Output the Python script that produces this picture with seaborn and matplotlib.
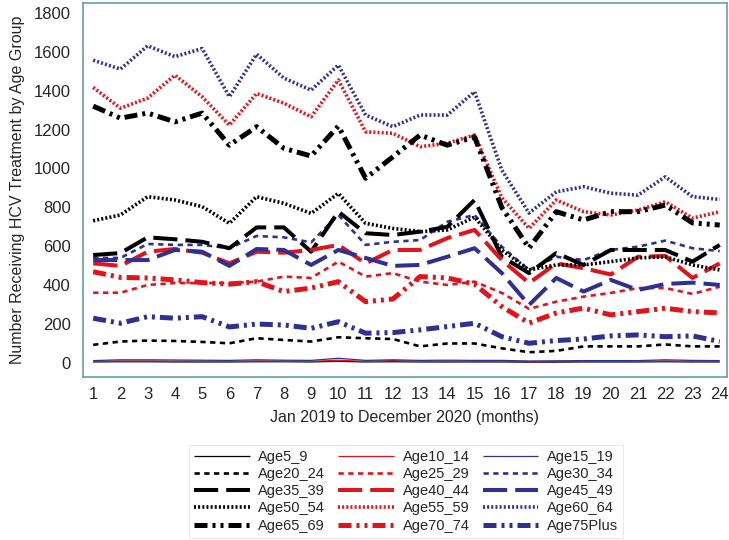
import numpy as np
import pandas as pd
import matplotlib
matplotlib.use("Agg")
import matplotlib.pyplot as plt
import seaborn as sns

# Meses 1..24 (ene 2019 - dic 2020)
months = list(range(1, 25))

groups = ["Age5_9", "Age10_14", "Age15_19",
          "Age20_24", "Age25_29", "Age30_34",
          "Age35_39", "Age40_44", "Age45_49",
          "Age50_54", "Age55_59", "Age60_64",
          "Age65_69", "Age70_74", "Age75Plus"]

age5_9 = [5, 6, 6, 5, 5, 5, 6, 6, 5, 8, 5, 6, 5, 5, 5, 5, 4, 4, 5, 5, 5, 6, 5, 5]
age10_14 = [8, 10, 10, 9, 9, 8, 10, 9, 8, 14, 8, 12, 8, 9, 8, 8, 6, 7, 8, 8, 8, 10, 8, 8]
age15_19 = [12, 16, 16, 15, 14, 13, 16, 14, 13, 24, 13, 16, 13, 14, 13, 13, 10, 11, 12, 12, 12, 16, 13, 12]
age20_24 = [93, 110, 115, 113, 108, 101, 127, 118, 110, 132, 127, 123, 85, 100, 100, 75, 55, 62, 85, 85, 85, 95, 85, 85]
age25_29 = [361, 361, 401, 411, 411, 411, 418, 444, 437, 521, 444, 462, 418, 401, 418, 360, 278, 315, 341, 360, 385, 385, 355, 392]
age30_34 = [540, 540, 612, 607, 607, 590, 653, 646, 620, 761, 607, 623, 632, 726, 761, 598, 478, 546, 529, 581, 598, 629, 590, 575]
age35_39 = [555, 565, 646, 636, 623, 590, 697, 697, 572, 778, 667, 658, 675, 700, 838, 546, 462, 565, 504, 581, 581, 581, 521, 607]
age40_44 = [512, 499, 572, 586, 567, 512, 572, 567, 581, 607, 512, 581, 581, 642, 684, 529, 411, 512, 487, 455, 546, 550, 437, 512]
age45_49 = [529, 529, 529, 581, 572, 499, 586, 581, 504, 581, 540, 499, 504, 546, 590, 462, 298, 437, 367, 427, 375, 406, 413, 401]
age50_54 = [731, 761, 855, 838, 804, 718, 855, 821, 769, 872, 718, 692, 675, 684, 750, 581, 478, 504, 504, 521, 540, 546, 504, 478]
age55_59 = [1417, 1310, 1362, 1480, 1369, 1223, 1386, 1336, 1266, 1455, 1189, 1181, 1112, 1130, 1172, 850, 692, 838, 778, 761, 786, 829, 745, 778]
age60_64 = [1557, 1511, 1631, 1575, 1617, 1369, 1588, 1465, 1403, 1532, 1275, 1215, 1275, 1275, 1395, 992, 771, 880, 906, 873, 863, 957, 855, 841]
age65_69 = [1321, 1259, 1285, 1240, 1285, 1120, 1215, 1104, 1064, 1218, 950, 1060, 1172, 1120, 1162, 800, 591, 778, 735, 778, 778, 812, 720, 709]
age70_74 = [469, 440, 437, 427, 413, 405, 418, 367, 385, 418, 315, 329, 444, 437, 405, 290, 205, 257, 282, 247, 264, 281, 264, 257]
age75plus = [230, 204, 238, 230, 238, 185, 200, 195, 178, 212, 153, 156, 170, 187, 204, 135, 101, 115, 123, 139, 144, 135, 139, 110]

values = [age5_9, age10_14, age15_19, age20_24, age25_29, age30_34,
          age35_39, age40_44, age45_49, age50_54, age55_59, age60_64,
          age65_69, age70_74, age75plus]

df = pd.DataFrame({
    "month": months * len(groups),
    "group": np.repeat(groups, len(months)),
    "count": np.concatenate(values),
})

BLACK, RED, BLUE = "#000000", "#e3121b", "#2e3192"
colors = [BLACK, RED, BLUE] * 5

# estilos de linea por fila (grupo de 3)
row_styles = [
    (0.9, None),                                   # solida fina
    (1.9, (2.0, 1.7)),                             # guiones cortos
    (2.9, (6.0, 2.0)),                             # guiones largos
    (2.6, (0.55, 0.6)),                            # punteado
    (3.6, (2.6, 1.0, 0.6, 1.0, 0.6, 1.0)),         # guion-punto-punto
]

sns.set_style("white")
plt.rcParams["font.family"] = ["Liberation Sans", "DejaVu Sans"]

fig = plt.figure(figsize=(7.29, 5.4), dpi=100)
ax = fig.add_axes([0.114, 0.302, 0.883, 0.692])

for i, g in enumerate(groups):
    lw, dash = row_styles[i // 3]
    sub = df[df["group"] == g]
    sns.lineplot(data=sub, x="month", y="count", ax=ax, color=colors[i],
                 linewidth=lw, label=g, legend=False)
    line = ax.lines[-1]
    if dash is not None:
        line.set_dashes(dash)
    line.set_solid_capstyle("butt")
    line.set_dash_capstyle("butt")

ax.set_xlim(0.63, 24.26)
ax.set_ylim(-72, 1850)
ax.set_xticks(months)
ax.set_yticks(range(0, 1801, 200))
ax.tick_params(axis="both", direction="out", length=5, width=0.8,
               color="#555555", labelsize=12, pad=4)
ax.tick_params(axis="x", pad=2)
for s in ax.spines.values():
    s.set_color("#6a9ca8")
    s.set_linewidth(1.2)

ax.set_xlabel("Jan 2019 to December 2020 (months)", fontsize=11.5, labelpad=6)
ax.set_ylabel("Number Receiving HCV Treatment by Age Group", fontsize=11.5, labelpad=6)

# leyenda por filas: matplotlib llena por columnas, asi que reordenamos
lines = ax.lines[:len(groups)]
order = [r * 3 + c for c in range(3) for r in range(5)]
leg = fig.legend([lines[k] for k in order], [groups[k] for k in order],
                 loc="upper center", bbox_to_anchor=(0.557, 0.19),
                 ncol=3, fontsize=10.5, handlelength=3.8, handletextpad=0.6,
                 columnspacing=0.9, labelspacing=0.22, frameon=True,
                 fancybox=False, borderpad=0.35)
leg.get_frame().set_edgecolor("#e4e4e4")
leg.get_frame().set_linewidth(0.8)

fig.savefig("out.png", dpi=100)
